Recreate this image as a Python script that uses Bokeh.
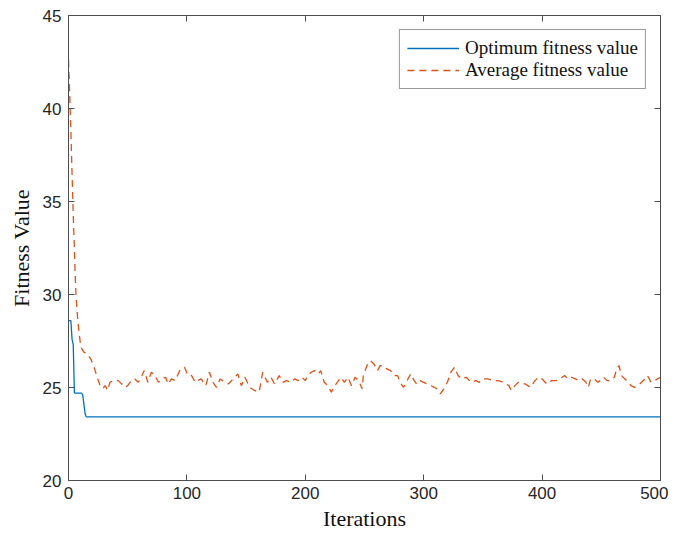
from bokeh.plotting import figure
from bokeh.models import LinearAxis, FixedTicker, Range1d
from bokeh.embed import file_html
from bokeh.resources import INLINE

# Optimum fitness value (step curve)
opt_iter = [0, 2, 3, 4, 5, 11, 12, 14, 15, 500]
opt_val = [28.6, 28.6, 27.6, 27.3, 24.7, 24.7, 24.6, 23.6, 23.42, 23.42]

# Average fitness value
avg_iter = [0, 1, 2, 3, 4, 5, 6, 7, 8, 9, 10, 11, 13, 15, 17, 19, 21, 23, 25, 27, 29, 31, 33,
            35, 38, 42, 45, 48, 50, 53, 56, 59, 62, 64, 67, 70, 73, 76, 79, 82,
            84, 87, 90, 94, 98, 101, 104, 107, 109, 112, 116, 119, 122, 125, 128, 130, 135, 139, 143,
            146, 149, 153, 157, 161, 164,
            168, 171, 174, 178, 181, 184, 188, 191, 194, 197, 200, 202, 205, 208, 211, 213, 216, 219,
            222, 225, 228, 230, 233, 236, 239, 242, 245, 248,
            249, 252, 255, 258, 261, 263, 266, 269, 272, 275, 278, 280, 283, 286, 289, 292, 294, 297,
            300, 303, 306, 309, 311, 314, 317, 320, 323, 326, 329,
            332, 336, 340, 344, 347, 350, 354, 359, 363, 367, 372, 374, 377, 380, 383, 386, 390, 394,
            397, 400, 404, 408, 412,
            417, 419, 422, 425, 428, 431, 434, 437, 439, 441, 444, 447, 449, 452, 455, 458, 461, 463,
            465, 467, 470, 473, 475, 478, 481, 484, 487, 489, 492, 495, 500]
avg_val = [42.6, 40.8, 38.8, 36.5, 34.3, 32.4, 30.4, 29.3, 28.5, 27.9, 27.4, 27.1, 26.9, 26.85, 26.7,
           26.5, 26.2, 25.8, 25.4, 25.05, 24.95, 25.1, 24.85,
           25.28, 25.37, 25.37, 25.19, 25.01, 25.10, 25.37, 25.46, 25.28, 25.64, 25.91, 25.28, 25.82,
           25.64, 25.28, 25.46, 25.55,
           25.19, 25.46, 25.37, 25.91, 26.09, 25.64, 25.64, 25.28, 25.37, 25.46, 25.10, 25.82, 25.28,
           25.01, 25.46, 25.37, 25.19, 25.46, 25.73, 25.10, 25.55, 25.01, 24.84, 24.75, 25.82,
           25.28, 25.55, 25.19, 25.64, 25.28, 25.37, 25.28, 25.46, 25.37, 25.55, 25.37, 25.64, 25.82,
           25.91, 25.73, 25.91, 25.28, 25.10, 24.75, 25.10, 25.37, 25.55, 25.28, 25.55, 25.10, 25.55,
           25.37, 24.93,
           25.64, 26.17, 26.44, 26.26, 25.91, 26.17, 26.17, 26.00, 25.91, 25.64, 25.64, 25.28, 25.01,
           25.37, 25.73, 25.37, 25.19, 25.37, 25.28, 25.19, 25.10, 25.01, 24.93, 24.66, 24.93, 25.28,
           25.82, 26.09, 25.64,
           25.46, 25.55, 25.28, 25.37, 25.28, 25.46, 25.46, 25.37, 25.37, 25.28, 25.10, 24.84, 25.10,
           25.28, 25.19, 25.19, 25.01, 25.37, 25.55, 25.46, 25.19, 25.37, 25.37,
           25.55, 25.64, 25.46, 25.55, 25.46, 25.37, 25.46, 25.28, 25.01, 25.46, 25.46, 25.28, 25.37,
           25.55, 25.37, 25.37, 25.55, 26.00, 26.17, 25.64, 25.46, 25.28, 25.10, 25.01, 25.10, 25.28,
           25.46, 25.64, 25.28, 25.37, 25.55]

x_ticks = [0, 100, 200, 300, 400, 500]
y_ticks = [20, 25, 30, 35, 40, 45]

AXIS_COLOR = "#4d4d4d"
TEXT_COLOR = "#262626"
BLUE = "#0072BD"
ORANGE = "#D95319"

p = figure(width=668, height=533, output_backend="svg", toolbar_location=None,
           x_range=Range1d(0, 500), y_range=Range1d(20, 45),
           min_border_left=68, min_border_right=8, min_border_top=15, min_border_bottom=51)
p.grid.visible = False
p.background_fill_color = "white"
p.border_fill_color = "white"
p.outline_line_color = AXIS_COLOR
p.outline_line_width = 1

p.line(opt_iter, opt_val, line_color=BLUE, line_width=1.3, legend_label="Optimum fitness value")
p.line(avg_iter, avg_val, line_color=ORANGE, line_width=1.3, line_dash="7 5",
       legend_label="Average fitness value")

for ax, ticks in ((p.xaxis[0], x_ticks), (p.yaxis[0], y_ticks)):
    ax.ticker = FixedTicker(ticks=ticks)
    ax.axis_line_color = AXIS_COLOR
    ax.major_tick_line_color = AXIS_COLOR
    ax.major_tick_in = 6
    ax.major_tick_out = 0
    ax.minor_tick_line_color = None
    ax.major_label_text_font = "Liberation Sans"
    ax.major_label_text_font_size = "17px"
    ax.major_label_text_color = TEXT_COLOR
    ax.axis_label_text_font = "Liberation Serif"
    ax.axis_label_text_font_size = "22px"
    ax.axis_label_text_font_style = "normal"
    ax.axis_label_text_color = "#111111"

p.xaxis[0].axis_label = "Iterations"
p.xaxis[0].major_label_standoff = 6
p.xaxis[0].axis_label_standoff = 4
p.yaxis[0].axis_label = "Fitness Value"
p.yaxis[0].major_label_standoff = 7
p.yaxis[0].axis_label_standoff = 6

# mirrored ticks on top and right (box on)
for loc, ticks in (("above", x_ticks), ("right", y_ticks)):
    ax = LinearAxis(ticker=FixedTicker(ticks=ticks))
    ax.axis_line_color = AXIS_COLOR
    ax.major_tick_line_color = AXIS_COLOR
    ax.major_tick_in = 6
    ax.major_tick_out = 0
    ax.minor_tick_line_color = None
    ax.major_label_overrides = {t: "" for t in ticks}
    ax.major_label_standoff = 0
    p.add_layout(ax, loc)

lg = p.legend[0]
lg.location = "top_right"
lg.margin = 14
lg.padding = 7
lg.spacing = 0
lg.glyph_width = 52
lg.glyph_height = 20
lg.label_height = 20
lg.label_standoff = 6
lg.label_text_font = "Liberation Serif"
lg.label_text_font_size = "19px"
lg.label_text_color = "#111111"
lg.border_line_color = "#333333"
lg.border_line_width = 1
lg.background_fill_color = "white"
lg.background_fill_alpha = 1

open("out.html", "w").write(file_html(p, INLINE))
